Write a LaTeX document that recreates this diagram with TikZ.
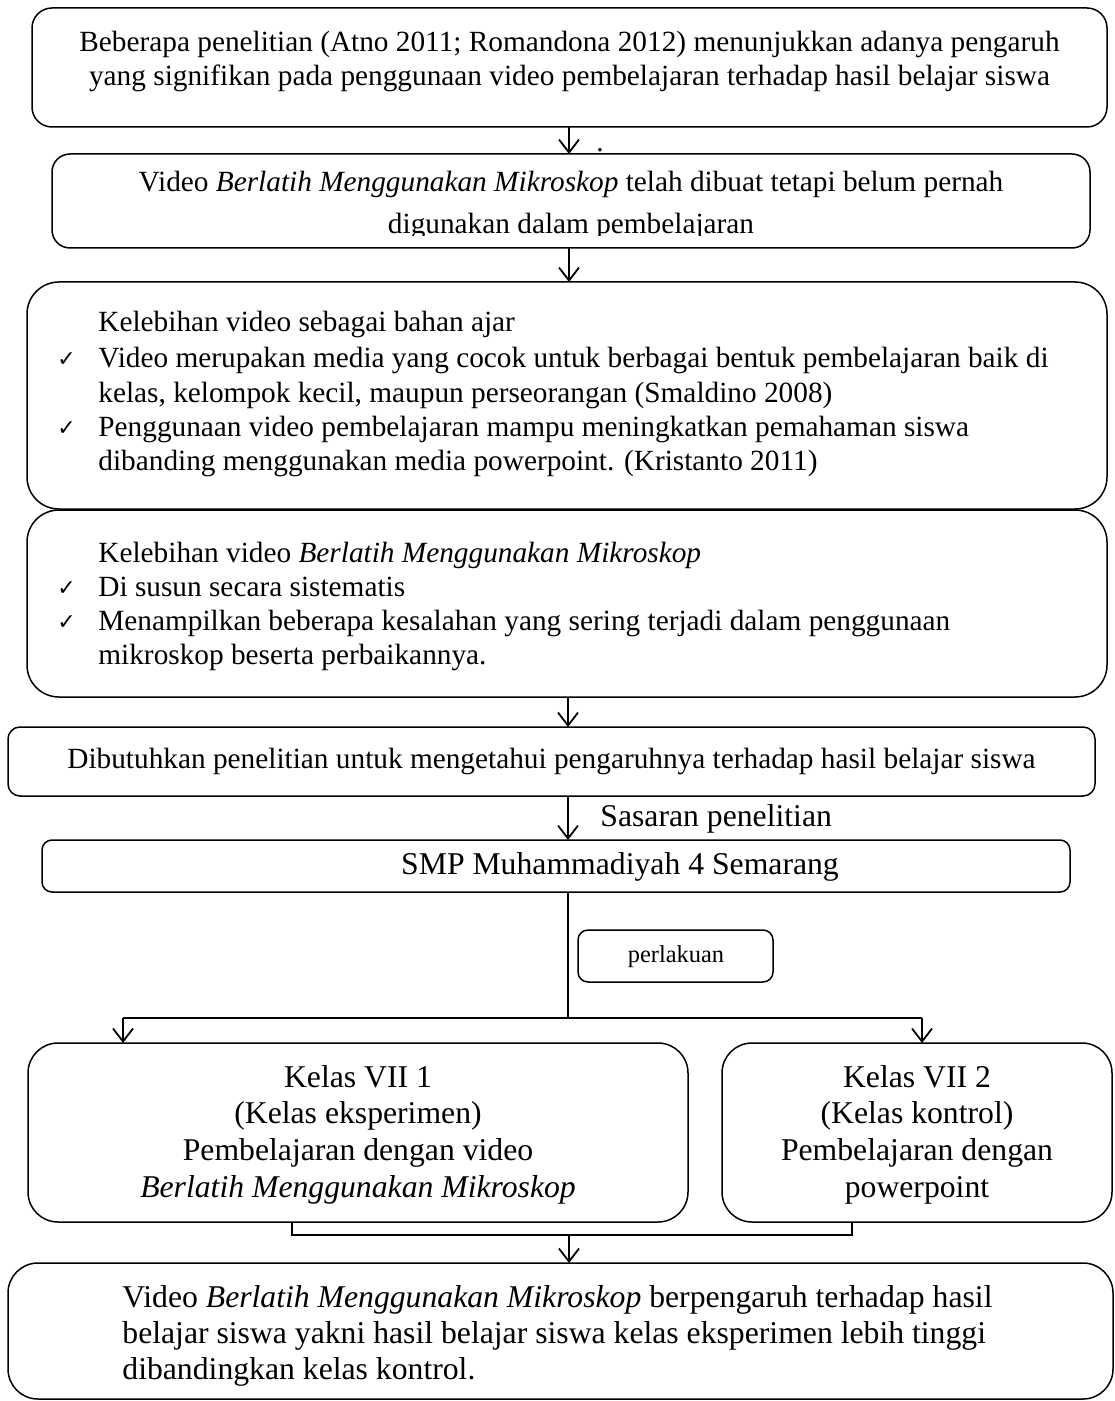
\documentclass[tikz,border=0pt]{standalone}
\usepackage{fontspec}
\setmainfont{Liberation Serif}
\newfontfamily\ckfam{DejaVu Sans}
\usetikzlibrary{arrows.meta}
\newcommand\fntA{\fontsize{14.65pt}{17pt}\selectfont}
\newcommand\fntB{\fontsize{15.85pt}{18.35pt}\selectfont}
\newcommand\fntC{\fontsize{12.2pt}{14pt}\selectfont}
\newcommand\fntK{\ckfam\fontsize{11pt}{11pt}\selectfont}
\begin{document}
\begin{tikzpicture}[x=0.5pt,y=-0.5pt,
  box/.style={draw,line width=0.75pt,inner sep=0pt,outer sep=0pt,anchor=north west},
  arr/.style={-{Straight Barb[length=6.5pt,width=10pt]},line width=0.9pt},
  ln/.style={line width=0.9pt},
  ta/.style={inner sep=0pt,anchor=base,font=\fntA},
  tal/.style={ta,anchor=base west},
  tb/.style={inner sep=0pt,anchor=base,font=\fntB},
  tbl/.style={tb,anchor=base west},
  ck/.style={inner sep=0pt,anchor=base west,font=\fntK}]
\useasboundingbox (0,0) rectangle (1114,1401);
% boxes
\node[box,minimum width=537.5pt,minimum height=59.5pt,rounded corners=10pt] (b1) at (32,8) {};
\node[box,minimum width=519pt,minimum height=47pt,rounded corners=9pt] (b2) at (52,154) {};
\node[box,minimum width=540pt,minimum height=113.5pt,rounded corners=16pt] (b3) at (27,282) {};
\node[box,minimum width=540pt,minimum height=93.5pt,rounded corners=16pt] (b4) at (27,510) {};
\node[box,minimum width=543.5pt,minimum height=34.5pt,rounded corners=6pt] (b5) at (8,727) {};
\node[box,minimum width=514pt,minimum height=26pt,rounded corners=5pt] (b6) at (42,840) {};
\node[box,minimum width=97.5pt,minimum height=26pt,rounded corners=5pt] (pl) at (578,930) {};
\node[box,minimum width=330pt,minimum height=89.5pt,rounded corners=15pt] (b7) at (28,1043) {};
\node[box,minimum width=195pt,minimum height=89.5pt,rounded corners=15pt] (b8) at (722,1043) {};
\node[box,minimum width=552.5pt,minimum height=68pt,rounded corners=15pt] (b9) at (8,1263) {};
% texts
\node[ta] (t1a) at (569.5,52) {Beberapa penelitian (Atno 2011; Romandona 2012) menunjukkan adanya pengaruh};
\node[ta] (t1b) at (569.5,86) {yang signifikan pada penggunaan video pembelajaran terhadap hasil belajar siswa};
\node[inner sep=0pt,anchor=base,font=\fntA] (dot) at (600,152) {.};
\node[ta] (t2a) at (571,192) {Video \textit{Berlatih Menggunakan Mikroskop} telah dibuat tetapi belum pernah};
\begin{scope}
\clip (52,154) rectangle (1090,236);
\node[ta] (t2b) at (571,234) {digunakan dalam pembelajaran};
\end{scope}
\node[tal] (t3a) at (98,332) {Kelebihan video sebagai bahan ajar};
\node[ck] (c3a) at (57,366) {✓};
\node[tal] (t3b) at (98,367) {Video merupakan media yang cocok untuk berbagai bentuk pembelajaran baik di};
\node[tal] (t3c) at (98,402) {kelas, kelompok kecil, maupun perseorangan (Smaldino 2008)};
\node[ck] (c3b) at (57,435) {✓};
\node[tal] (t3d) at (98,436) {Penggunaan video pembelajaran mampu meningkatkan pemahaman siswa};
\node[tal] (t3e) at (98,470) {dibanding menggunakan media powerpoint. (Kristanto 2011)};
\node[tal] (t4a) at (98,562) {Kelebihan video \textit{Berlatih Menggunakan Mikroskop}};
\node[ck] (c4a) at (57,595) {✓};
\node[tal] (t4b) at (98,596) {Di susun secara sistematis};
\node[ck] (c4b) at (57,629) {✓};
\node[tal] (t4c) at (98,630) {Menampilkan beberapa kesalahan yang sering terjadi dalam penggunaan};
\node[tal] (t4d) at (98,664) {mikroskop beserta perbaikannya.};
\node[ta] (t5) at (551.5,768) {Dibutuhkan penelitian untuk mengetahui pengaruhnya terhadap hasil belajar siswa};
\node[tbl] (ts) at (600,826) {Sasaran penelitian};
\node[tb] (t6) at (620,874) {SMP Muhammadiyah 4 Semarang};
\node[inner sep=0pt,anchor=base,font=\fntC] (tp) at (676,962) {perlakuan};
\node[tb] (t7a) at (358,1087) {Kelas VII 1};
\node[tb] (t7b) at (358,1123) {(Kelas eksperimen)};
\node[tb] (t7c) at (358,1160) {Pembelajaran dengan video};
\node[tb] (t7d) at (358,1197) {\textit{Berlatih Menggunakan Mikroskop}};
\node[tb] (t8a) at (917,1087) {Kelas VII 2};
\node[tb] (t8b) at (917,1123) {(Kelas kontrol)};
\node[tb] (t8c) at (917,1160) {Pembelajaran dengan};
\node[tb] (t8d) at (917,1197) {powerpoint};
\node[tbl] (t9a) at (122,1307) {Video \textit{Berlatih Menggunakan Mikroskop} berpengaruh terhadap hasil};
\node[tbl] (t9b) at (122,1343) {belajar siswa yakni hasil belajar siswa kelas eksperimen lebih tinggi};
\node[tbl] (t9c) at (122,1379) {dibandingkan kelas kontrol.};
% connectors
\coordinate (cx) at (569,0);
\coordinate (dx) at (568,0);
\draw[arr] (b1.south -| cx) -- (b2.north -| cx);
\draw[arr] (b2.south -| cx) -- (b3.north -| cx);
\draw[arr] (b4.south -| dx) -- (b5.north -| dx);
\draw[arr] (b5.south -| dx) -- (b6.north -| dx);
\coordinate (jn) at (568,1018);
\coordinate (jl) at (123,1018);
\coordinate (jr) at (922,1018);
\draw[ln] (b6.south -| jn) -- (jn);
\draw[ln] (jl) -- (jr);
\draw[arr] (jl) -- (b7.north -| jl);
\draw[arr] (jr) -- (b8.north -| jr);
\coordinate (kl) at (292,1235);
\coordinate (kr) at (852,1235);
\coordinate (km) at (569,1235);
\draw[ln] (b7.south -| kl) -- (kl) -- (kr) -- (b8.south -| kr);
\draw[arr] (km) -- (b9.north -| km);
\end{tikzpicture}
\end{document}
